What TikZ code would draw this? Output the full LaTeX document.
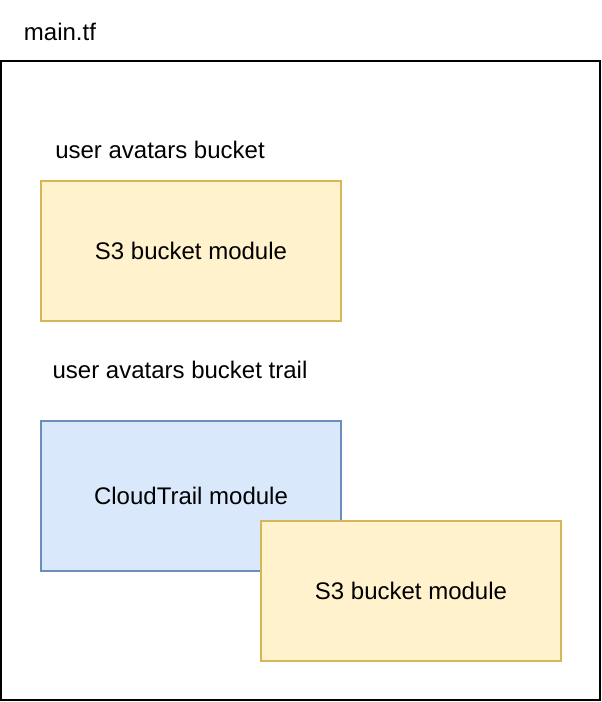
\documentclass[tikz,border=0pt]{standalone}
\usepackage{fontspec}
\setmainfont{Liberation Sans}
\usetikzlibrary{positioning}
\definecolor{s3fill}{HTML}{FFF2CC}
\definecolor{s3line}{HTML}{D6B656}
\definecolor{ctfill}{HTML}{DAE8FC}
\definecolor{ctline}{HTML}{6C8EBF}
\begin{document}
\begin{tikzpicture}[x=1pt, y=-1pt, line width=2pt, font=\fontsize{24}{28}\selectfont,
    frame/.style={draw=black, minimum width=599pt, minimum height=639pt, inner sep=0pt},
    s3mod/.style={draw=s3line, fill=s3fill, minimum width=300pt, minimum height=140pt, inner sep=0pt},
    ctmod/.style={draw=ctline, fill=ctfill, minimum width=300pt, minimum height=150pt, inner sep=0pt},
    caption/.style={inner sep=0pt}]
    \useasboundingbox (0,0) rectangle (602,702);
    \node[frame]           (maintf)    at (300.5,380.5)  {};
    \node[caption]         (file)      at (60,32)        {main.tf};

    \node[s3mod]           (avatars)   at (191,251)      {S3 bucket module};
    \node[caption]         (avlabel)   at (160,150)      {user avatars bucket};

    \node[ctmod]           (trail)     at (191,496)      {CloudTrail module};
    \node[caption]         (trlabel)   at (180,370)      {user avatars bucket trail};
    \node[s3mod]           (trailbkt)  at (411,591)      {S3 bucket module};
\end{tikzpicture}
\end{document}
